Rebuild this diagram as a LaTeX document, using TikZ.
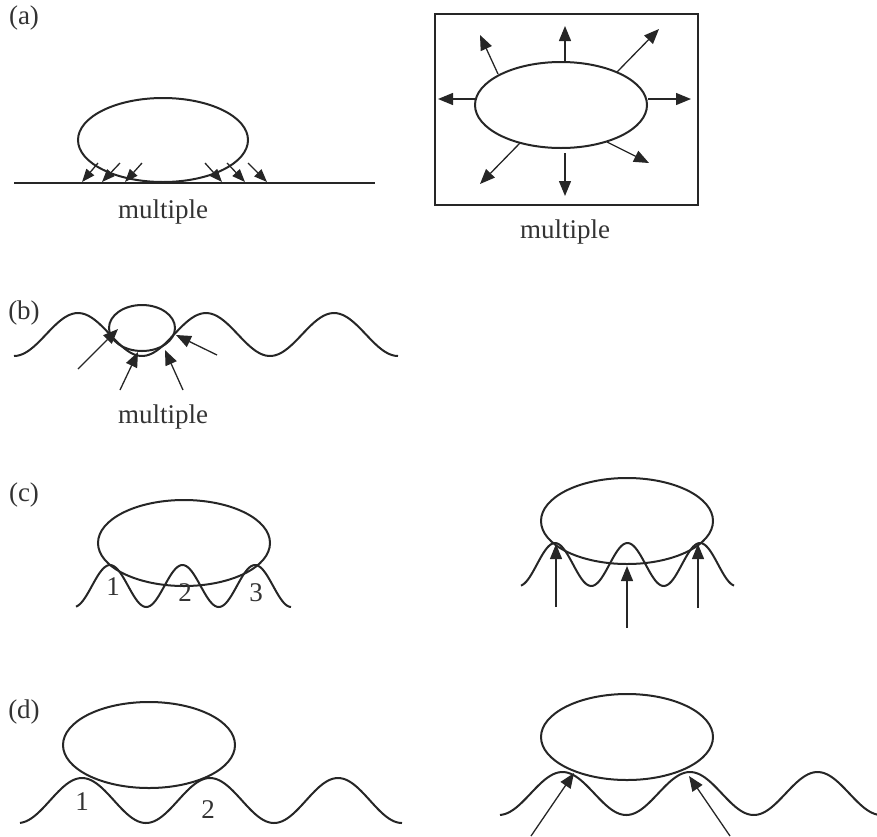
\documentclass[tikz,border=0pt]{standalone}
\usepackage{fontspec}
\setmainfont{Liberation Serif}
\usetikzlibrary{arrows.meta}
\begin{document}
\begin{tikzpicture}[x=1pt,y=-1pt,
  curve/.style={line width=2pt, black!85},
  arr/.style={line width=1.3pt, black!85, -{Triangle[length=15pt,width=12pt]}},
  sarr/.style={line width=1.3pt, black!85, -{Triangle[length=13pt,width=10pt]}},
  lbl/.style={font=\fontsize{27}{30}\selectfont, inner sep=0pt, text=black!80},
  num/.style={font=\fontsize{27}{30}\selectfont, inner sep=0pt, text=black!80}]
\useasboundingbox (0,0) rectangle (877,836);

% ---------- (a) ----------
\node[lbl] (la) at (24,18) {(a)};
\draw[curve] (14,183) -- (375,183);
\draw[curve] (163,140) ellipse [x radius=85, y radius=42];
\foreach \tx/\hx in {98/82,120/102,142/125}
  \draw[sarr] (\tx,163) -- (\hx,182);
\foreach \tx/\hx in {205/222,227/245,248/267}
  \draw[sarr] (\tx,163) -- (\hx,182);
\node[lbl] (ma) at (163,212) {multiple};

\draw[curve] (435,14) rectangle (698,205);
\draw[curve] (561,105) ellipse [x radius=86, y radius=43];
\draw[arr] (565,62) -- (565,26);
\draw[arr] (498,74) -- (480,35);
\draw[arr] (617,72) -- (659,29);
\draw[arr] (475,99) -- (438,99);
\draw[arr] (648,99) -- (691,99);
\draw[arr] (520,143) -- (480,184);
\draw[arr] (565,153) -- (565,196);
\draw[arr] (607,142) -- (649,163);
\node[lbl] (mb) at (565,232) {multiple};

% ---------- (b) ----------
\node[lbl] (lb) at (24,313) {(b)};
\draw[curve] plot[domain=14:398, samples=120, smooth] (\x,{334.5-21.5*cos((\x-78)*2.8125)});
\draw[curve] (142,328) ellipse [x radius=33, y radius=23];
\draw[arr] (78,369) -- (118,329);
\draw[arr] (120,390) -- (138,352);
\draw[arr] (183,390) -- (165,350);
\draw[arr] (217,355) -- (176,335);
\node[lbl] (mc) at (163,417) {multiple};

% ---------- (c) ----------
\node[lbl] (lc) at (24,495) {(c)};
\draw[curve] (184,543) ellipse [x radius=86, y radius=43];
\draw[curve] plot[domain=76:291, samples=120, smooth] (\x,{586-21*cos((\x-182.5)*4.9655)});
\node[num] (c1) at (113,587) {1};
\node[num] (c2) at (185,593) {2};
\node[num] (c3) at (256,593) {3};

\draw[curve] (627,521) ellipse [x radius=86, y radius=43];
\draw[curve] plot[domain=521:734, samples=120, smooth] (\x,{564.5-21.5*cos((\x-627.5)*4.9655)});
\draw[arr] (556,607) -- (556,544);
\draw[arr] (627,628) -- (627,566);
\draw[arr] (698,608) -- (698,544);

% ---------- (d) ----------
\node[lbl] (ld) at (24,712) {(d)};
\draw[curve] (149,745) ellipse [x radius=86, y radius=43];
\draw[curve] plot[domain=20:402, samples=150, smooth] (\x,{800.5-22.5*cos((\x-82)*2.8125)});
\node[num] (d1) at (82,802) {1};
\node[num] (d2) at (208,810) {2};

\draw[curve] (627,737) ellipse [x radius=86, y radius=43];
\draw[curve] plot[domain=500:877, samples=150, smooth] (\x,{793.5-21.5*cos((\x-690)*2.8235)});
\draw[arr] (531,836) -- (574,773);
\draw[arr] (730,836) -- (689,776);
\end{tikzpicture}
\end{document}
